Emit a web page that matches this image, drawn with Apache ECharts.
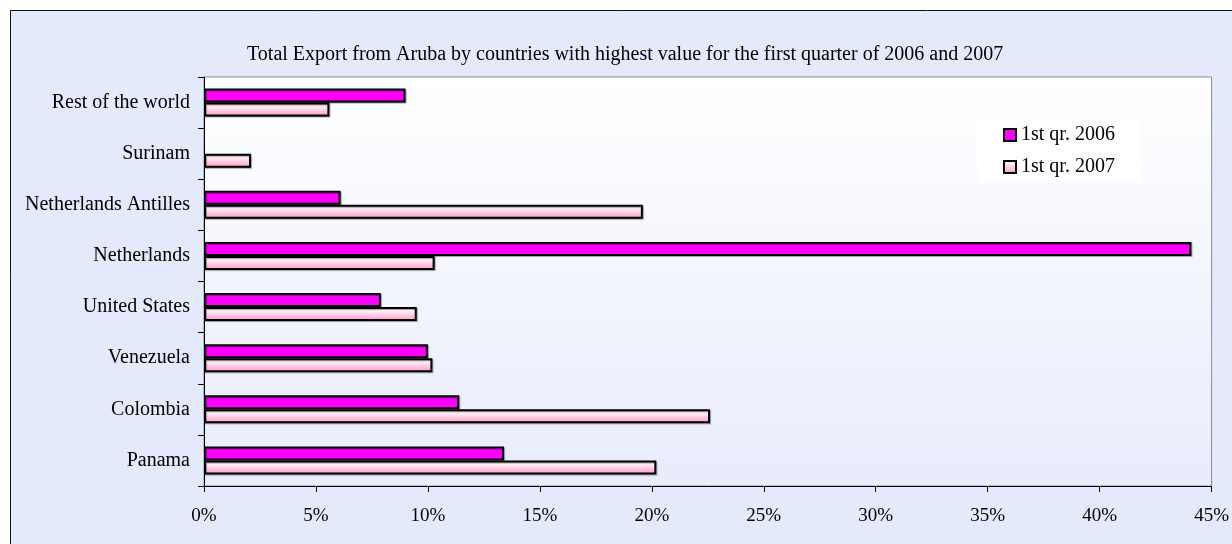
<!DOCTYPE html>
<html>
<head>
<meta charset="utf-8">
<script src="https://cdn.jsdelivr.net/npm/echarts@6/dist/echarts.min.js"></script>
<style>html,body{margin:0;padding:0;background:#fff;}#c{width:1232px;height:544px;}</style>
</head>
<body>
<div id="c"></div>
<script>
var categories = ['Rest of the world', 'Surinam', 'Netherlands Antilles', 'Netherlands', 'United States', 'Venezuela', 'Colombia', 'Panama'];
var values2006 = [9.0, null, 6.1, 44.1, 7.9, 10.0, 11.4, 13.4];
var values2007 = [5.6, 2.1, 19.6, 10.3, 9.5, 10.2, 22.6, 20.2];
var seriesNames = ['1st qr. 2006', '1st qr. 2007'];
var titleText = 'Total Export from Aruba by countries with highest value for the first quarter of 2006 and 2007';

var FONT = 'Liberation Serif, Times New Roman, serif';
var chart = echarts.init(document.getElementById('c'), null, {renderer: 'canvas'});
var pinkGrad = new echarts.graphic.LinearGradient(0, 0, 0, 1, [
  {offset: 0, color: '#FFFFFF'},
  {offset: 0.3, color: '#FFECF5'},
  {offset: 1, color: '#FF94C8'}
]);
chart.setOption({
  backgroundColor: '#E4E9FB',
  animation: false,
  graphic: [
    {type: 'rect', shape: {x: 0, y: 0, width: 1232, height: 10}, style: {fill: '#fff'}, silent: true},
    {type: 'rect', shape: {x: 0, y: 0, width: 10, height: 544}, style: {fill: '#fff'}, silent: true},
    {type: 'rect', shape: {x: 10.5, y: 10.5, width: 1400, height: 800}, style: {fill: 'none', stroke: '#111', lineWidth: 1}, silent: true}
  ],
  title: {
    text: titleText,
    left: 242, top: 40,
    textStyle: {fontFamily: FONT, fontSize: 20, fontWeight: 'normal', color: '#000'}
  },
  legend: {
    orient: 'vertical',
    left: 977, top: 115,
    padding: [10, 26, 6, 26],
    itemGap: 12,
    itemWidth: 12, itemHeight: 12,
    backgroundColor: '#FFFFFF',
    icon: 'rect',
    textStyle: {fontFamily: FONT, fontSize: 20, color: '#000', lineHeight: 20},
    data: seriesNames
  },
  grid: {
    left: 204, right: 18, top: 77, bottom: 58,
    show: true,
    borderColor: '#8A8A8A', borderWidth: 1,
    backgroundColor: new echarts.graphic.LinearGradient(0, 0, 0, 1, [
      {offset: 0, color: '#FFFFFF'},
      {offset: 1, color: '#E8ECFB'}
    ])
  },
  xAxis: {
    type: 'value', min: 0, max: 45, interval: 5,
    axisLine: {show: true, lineStyle: {color: '#000', width: 1}},
    axisTick: {show: true, length: 6, lineStyle: {color: '#000'}},
    splitLine: {show: false},
    axisLabel: {formatter: '{value}%', fontFamily: FONT, fontSize: 19, color: '#000', margin: 21}
  },
  yAxis: {
    type: 'category', inverse: true, data: categories,
    axisLine: {show: true, lineStyle: {color: '#000', width: 1}},
    axisTick: {show: true, length: 6, lineStyle: {color: '#000'}},
    axisLabel: {fontFamily: FONT, fontSize: 20, color: '#000', margin: 14}
  },
  series: [
    {
      name: seriesNames[0], type: 'bar', data: values2006,
      barWidth: 14, barGap: '0%',
      itemStyle: {color: '#FF00FF', borderColor: '#000', borderWidth: 2, shadowColor: 'rgba(0,0,0,0.35)', shadowOffsetX: 1, shadowOffsetY: 1, shadowBlur: 1}
    },
    {
      name: seriesNames[1], type: 'bar', data: values2007,
      barWidth: 14, barGap: '0%',
      itemStyle: {color: pinkGrad, borderColor: '#000', borderWidth: 2, shadowColor: 'rgba(0,0,0,0.35)', shadowOffsetX: 1, shadowOffsetY: 1, shadowBlur: 1}
    }
  ]
});
</script>
</body>
</html>
